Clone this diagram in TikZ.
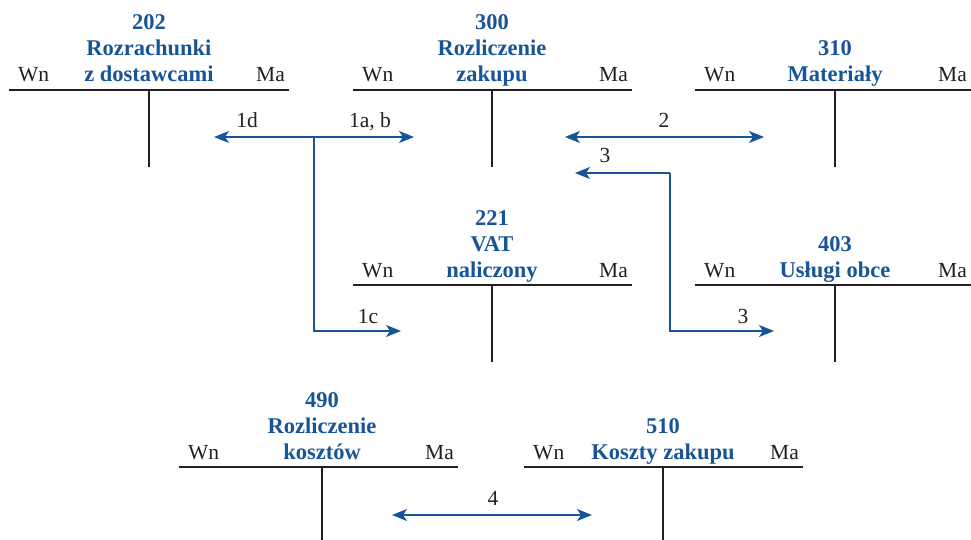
\documentclass[tikz,border=0pt]{standalone}
\usepackage{fontspec}
\setmainfont{Liberation Serif}
\usetikzlibrary{arrows.meta}
\definecolor{accblue}{RGB}{24,84,152}
\definecolor{accline}{RGB}{35,31,32}
\begin{document}
\begin{tikzpicture}[x=1pt,y=-1pt,
  tline/.style={draw=accline,line width=1.4pt},
  flow/.style={draw=accblue,line width=1.7pt},
  tip/.style={-{Stealth[length=15pt,width=12pt,inset=4pt]}},
  both/.style={{Stealth[length=15pt,width=12pt,inset=4pt]}-{Stealth[length=15pt,width=12pt,inset=4pt]}},
  side/.style={font=\fontsize{21.5}{26}\selectfont,text=accline,inner sep=0pt},
  title/.style={font=\fontsize{22.5}{26}\selectfont\bfseries,text=accblue,inner sep=0pt,anchor=base},
  lab/.style={font=\fontsize{21.5}{26}\selectfont,text=accline,inner sep=0pt,anchor=base}]
\useasboundingbox (0,0) rectangle (971,540);
% #1 name, #2 left, #3 right, #4 mid, #5 line y, #6 bottom y
\newcommand\tacc[6]{%
  \coordinate (#1L) at (#2,#5);
  \coordinate (#1R) at (#3,#5);
  \coordinate (#1T) at (#4,#5);
  \coordinate (#1B) at (#4,#6);
  \draw[tline] (#1L) -- (#1R);
  \draw[tline] (#1T) -- (#1B);
  \node[side,anchor=base west] (#1wn) at (#2+9,#5-8) {Wn};
  \node[side,anchor=base east] (#1ma) at (#3-4,#5-8) {Ma};
}
\tacc{a}{9}{289}{149}{90}{167}
\tacc{b}{353}{632}{492}{90}{167}
\tacc{c}{695}{971}{835}{90}{167}
\tacc{d}{353}{632}{492}{285}{362}
\tacc{e}{695}{971}{835}{285}{362}
\tacc{f}{179}{458}{322}{467}{540}
\tacc{g}{524}{803}{663}{467}{540}
% titles
\node[title] (a1) at (149,30) {202};
\node[title] (a2) at (149,56) {Rozrachunki};
\node[title] (a3) at (149,82) {z dostawcami};
\node[title] (b1) at (492,30) {300};
\node[title] (b2) at (492,56) {Rozliczenie};
\node[title] (b3) at (492,82) {zakupu};
\node[title] (c1) at (835,56) {310};
\node[title] (c2) at (835,82) {Materiały};
\node[title] (d1) at (492,225) {221};
\node[title] (d2) at (492,251) {VAT};
\node[title] (d3) at (492,277) {naliczony};
\node[title] (e1) at (835,251) {403};
\node[title] (e2) at (835,277) {Usługi obce};
\node[title] (f1) at (322,407) {490};
\node[title] (f2) at (322,433) {Rozliczenie};
\node[title] (f3) at (322,459) {kosztów};
\node[title] (g1) at (663,433) {510};
\node[title] (g2) at (663,459) {Koszty zakupu};
% arrow endpoints
\coordinate (p1d) at (214,137);
\coordinate (p1ab) at (414,137);
\coordinate (pj) at (314,137);
\coordinate (pk) at (314,331);
\coordinate (p1c) at (401,331);
\coordinate (p2l) at (565,137);
\coordinate (p2r) at (764,137);
\coordinate (p3a) at (575,173);
\coordinate (p3b) at (670,173);
\coordinate (p3c) at (670,331);
\coordinate (p3d) at (774,331);
\coordinate (p4l) at (392,515);
\coordinate (p4r) at (592,515);
% arrows
\draw[flow,tip] (pj) -- (p1d);
\draw[flow,tip] (pj) -- (p1ab);
\draw[flow,tip] (pj) -- (pk) -- (p1c);
\draw[flow,both] (p2l) -- (p2r);
\draw[flow,tip] (p3b) -- (p3a);
\draw[flow,tip] (p3b) -- (p3c) -- (p3d);
\draw[flow,both] (p4l) -- (p4r);
% labels
\node[lab] (l1d) at (247,128) {1d};
\node[lab] (l1ab) at (370,128) {1a, b};
\node[lab] (l2) at (664,128) {2};
\node[lab] (l3a) at (605,163) {3};
\node[lab] (l1c) at (368,323) {1c};
\node[lab] (l3b) at (743,323) {3};
\node[lab] (l4) at (493,505) {4};
\end{tikzpicture}
\end{document}
